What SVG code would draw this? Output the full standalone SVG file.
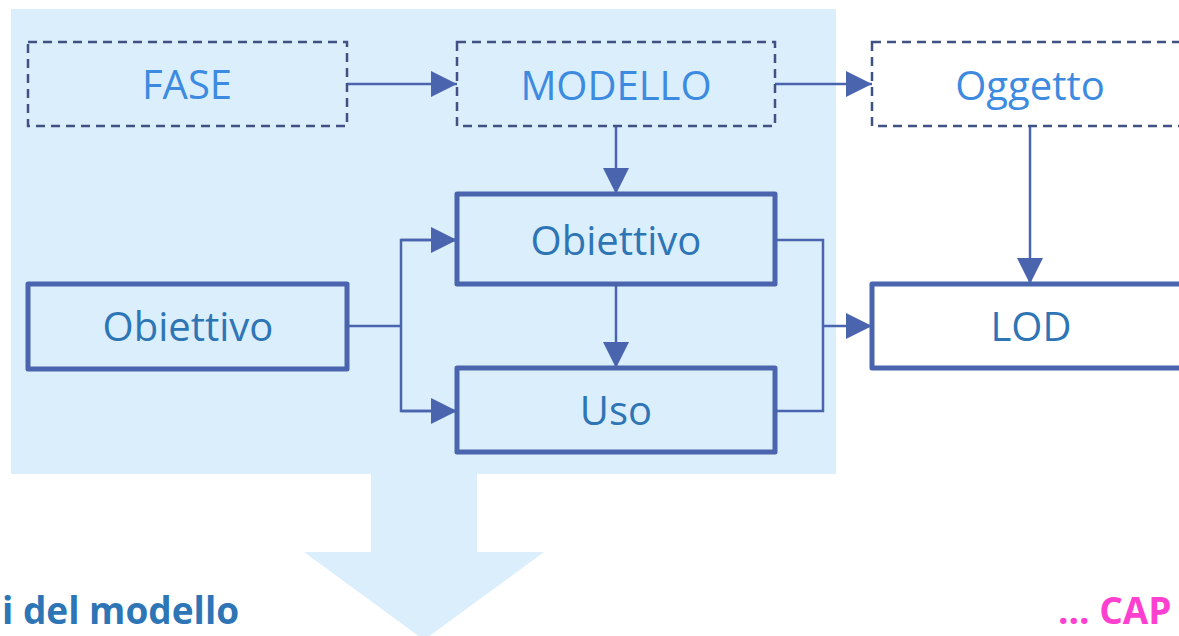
<svg xmlns="http://www.w3.org/2000/svg" width="1179" height="636" viewBox="0 0 1179 636">
<style>
.dash{fill:none;stroke:#3F5283;stroke-width:2.5;stroke-dasharray:9 6}
.solid{stroke:#4A64AE;stroke-width:5;stroke-linejoin:round}
.lt{font-family:"Open Sans",sans-serif;font-size:40px;fill:#3C8BE0;text-anchor:middle}
.dk{font-family:"Open Sans",sans-serif;font-size:40px;fill:#2E75B6;text-anchor:middle}
.conn{fill:none;stroke:#4A64AE;stroke-width:2.5}
</style>
<defs>
<marker id="ah" markerUnits="userSpaceOnUse" markerWidth="26" markerHeight="26" refX="26" refY="13" orient="auto">
<path d="M0,0 L26,13 L0,26 z" fill="#4A64AE"/>
</marker>
</defs>
<rect width="1179" height="636" fill="#FFFFFF"/>
<g id="panel">
<rect x="11" y="9" width="825" height="465" fill="#DBEEFB"/>
<path d="M371,474 H477 V552 H544 L424,640 L304,552 H371 Z" fill="#DBEEFB"/>
</g>
<g id="connectors">
<line class="conn" x1="347" y1="84" x2="457" y2="84" marker-end="url(#ah)"/>
<line class="conn" x1="775" y1="84" x2="872" y2="84" marker-end="url(#ah)"/>
<line class="conn" x1="616" y1="126" x2="616" y2="194" marker-end="url(#ah)"/>
<line class="conn" x1="1030" y1="126" x2="1030" y2="284" marker-end="url(#ah)"/>
<line class="conn" x1="616" y1="284" x2="616" y2="368" marker-end="url(#ah)"/>
<polyline class="conn" points="347,326 401,326"/>
<polyline class="conn" points="457,240 401,240 401,411 457,411"/>
<line class="conn" x1="401" y1="240" x2="457" y2="240" marker-end="url(#ah)"/>
<line class="conn" x1="401" y1="411" x2="457" y2="411" marker-end="url(#ah)"/>
<polyline class="conn" points="775,240 823,240 823,411 775,411"/>
<line class="conn" x1="823" y1="326" x2="872" y2="326" marker-end="url(#ah)"/>
</g>
<g id="fase">
<rect class="dash" x="28" y="42" width="319" height="84"/>
<text class="lt" x="187" y="99">FASE</text>
</g>
<g id="modello">
<rect class="dash" x="457" y="42" width="318" height="84"/>
<text class="lt" x="616" y="100">MODELLO</text>
</g>
<g id="oggetto">
<rect class="dash" x="872" y="42" width="318" height="84" style="fill:#FFFFFF"/>
<text class="lt" x="1030" y="100">Oggetto</text>
</g>
<g id="obiettivo-center">
<rect class="solid" x="457" y="194" width="318" height="90" fill="none"/>
<text class="dk" x="616" y="255">Obiettivo</text>
</g>
<g id="obiettivo-left">
<rect class="solid" x="28" y="284" width="319" height="85" fill="none"/>
<text class="dk" x="188" y="341">Obiettivo</text>
</g>
<g id="uso">
<rect class="solid" x="457" y="368" width="318" height="84" fill="none"/>
<text class="dk" x="616" y="425">Uso</text>
</g>
<g id="lod">
<rect class="solid" x="872" y="284" width="318" height="84" fill="#FFFFFF"/>
<text class="dk" x="1031" y="341">LOD</text>
</g>
<text x="2" y="624" font-family="'Open Sans',sans-serif" font-weight="bold" font-size="37" fill="#2E75B6">i del modello</text>
<text x="1058" y="624" font-family="'Open Sans',sans-serif" font-weight="bold" font-size="37" fill="#FF3FCF">... CAP</text>
</svg>
